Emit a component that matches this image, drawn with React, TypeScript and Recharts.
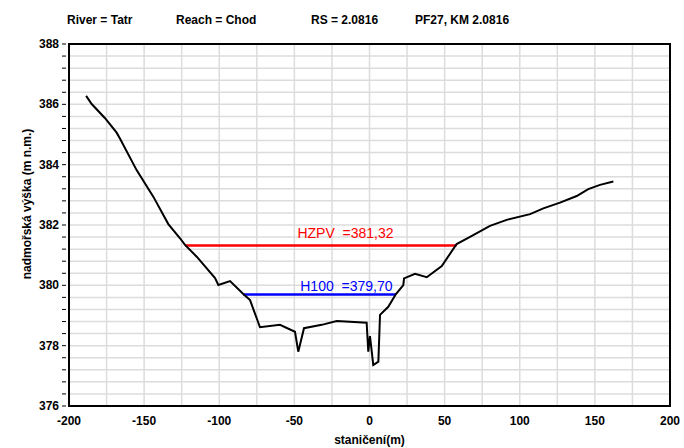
import {
  LineChart,
  Line,
  XAxis,
  YAxis,
  CartesianGrid,
  ReferenceArea,
  ReferenceLine,
  ReferenceDot,
  Label,
} from "recharts"

// cross-section profile (station m, elevation m n.m.)
const STATIONS = [
  -188.6, -184.9, -176.0, -168.3, -166.1, -155.0, -143.9, -133.9, -126.1, -122.8,
  -115.0, -102.8, -100.6, -92.8, -84.0, -79.5, -72.9, -59.6, -49.6, -47.4,
  -43.6, -31.8, -21.8, -1.9, -0.8, 0.3, 1.5, 2.5, 5.9, 7.0,
  12.5, 17.6, 22.5, 23.0, 30.3, 38.1, 48.1, 58.0, 66.9, 80.2,
  91.3, 106.9, 115.7, 126.8, 137.9, 145.6, 153.4, 162.3,
]
const ELEVATIONS = [
  386.28, 386.01, 385.54, 385.06, 384.87, 383.82, 382.94, 382.03, 381.56, 381.34,
  380.95, 380.24, 380.01, 380.14, 379.71, 379.51, 378.61, 378.69, 378.46, 377.8,
  378.58, 378.69, 378.82, 378.76, 377.8, 378.32, 377.8, 377.36, 377.47, 379.02,
  379.29, 379.71, 380.01, 380.23, 380.38, 380.27, 380.64, 381.37, 381.61, 381.97,
  382.17, 382.36, 382.55, 382.74, 382.96, 383.19, 383.33, 383.44,
]

const HZPV = 381.32
const HZPV_FROM = -122.8
const HZPV_TO = 58.0
const H100 = 379.7
const H100_FROM = -84.0
const H100_TO = 17.6

const X_TICKS = [-200, -150, -100, -50, 0, 50, 100, 150, 200]
const Y_TICKS = [376, 378, 380, 382, 384, 386, 388]

const TITLE = [
  { text: "River = Tatr", x: 67 },
  { text: "Reach = Chod", x: 176 },
  { text: "RS = 2.0816", x: 311 },
  { text: "PF27, KM 2.0816", x: 415 },
]
const Y_TITLE = "nadmořská výška (m n.m.)"

const FONT = "'Liberation Sans', Arial, sans-serif"

const profile = STATIONS.map((s, i) => ({ x: s, y: ELEVATIONS[i] }))

// grid every 25 m / 0.4 m
const xGrid: number[] = []
for (let v = -200; v <= 200; v += 25) xGrid.push(v)
const yGrid: number[] = []
for (let i = 0; i <= 30; i++) yGrid.push(Math.round((376 + i * 0.4) * 10) / 10)

const YTick = ({ x, y, payload }: any) => {
  const show = Y_TICKS.includes(payload.value)
  return (
    <g>
      <line x1={x + 1} x2={x + 5} y1={y} y2={y} stroke="#000" strokeWidth={1} />
      {show && (
        <text x={x - 2} y={y + 4} textAnchor="end" fontSize={12} fontWeight="bold" fontFamily={FONT} fill="#000">
          {payload.value}
        </text>
      )}
    </g>
  )
}

export default function App() {
  return (
    <div style={{ position: "absolute", left: 0, top: 0, width: 684, height: 448, background: "#fff" }}>
      <LineChart
        width={684}
        height={448}
        margin={{ top: 44, right: 14, bottom: 0, left: 0 }}
        style={{ position: "absolute", left: 0, top: 0 }}
      >
        <CartesianGrid
          stroke="#dcdcdc"
          strokeWidth={1.5}
          horizontalValues={yGrid}
          verticalValues={xGrid}
        />
        <XAxis
          dataKey="x"
          type="number"
          domain={[-200, 200]}
          ticks={X_TICKS}
          allowDataOverflow
          height={42}
          axisLine={{ stroke: "#000", strokeWidth: 2 }}
          tickLine={false}
          tick={{ fontSize: 12, fontWeight: "bold", fontFamily: FONT, fill: "#000" }}
          tickMargin={4}
        >
          <Label
            value="staničení(m)"
            position="insideBottom"
            offset={4}
            style={{ fontSize: 12, fontWeight: "bold", fontFamily: FONT, fill: "#000" }}
          />
        </XAxis>
        <YAxis
          dataKey="y"
          type="number"
          domain={[376, 388]}
          ticks={yGrid}
          interval={0}
          allowDataOverflow
          width={69}
          axisLine={{ stroke: "#000", strokeWidth: 2 }}
          tickLine={false}
          tick={<YTick />}
        />
        <ReferenceArea x1={-200} x2={200} y1={376} y2={388} fill="none" stroke="#000" strokeWidth={2} />
        <ReferenceLine
          segment={[
            { x: HZPV_FROM, y: HZPV },
            { x: HZPV_TO, y: HZPV },
          ]}
          stroke="#ff0000"
          strokeWidth={2.5}
        />
        <ReferenceLine
          segment={[
            { x: H100_FROM, y: H100 },
            { x: H100_TO, y: H100 },
          ]}
          stroke="#0000ff"
          strokeWidth={2.5}
        />
        <ReferenceDot x={-16} y={HZPV} r={0} stroke="none" fill="none">
          <Label
            value={"HZPV\u00a0\u00a0=381,32"}
            position="top"
            offset={8}
            style={{ fontSize: 14, fontFamily: FONT, fill: "#ff0000" }}
          />
        </ReferenceDot>
        <ReferenceDot x={-15.4} y={H100} r={0} stroke="none" fill="none">
          <Label
            value={"H100\u00a0\u00a0=379,70"}
            position="top"
            offset={3}
            style={{ fontSize: 14, fontFamily: FONT, fill: "#0000ff" }}
          />
        </ReferenceDot>
        <Line
          data={profile}
          dataKey="y"
          type="linear"
          stroke="#000"
          strokeWidth={2}
          dot={false}
          isAnimationActive={false}
        />
      </LineChart>
      <svg width={684} height={448} style={{ position: "absolute", left: 0, top: 0, pointerEvents: "none" }}>
        {TITLE.map((t) => (
          <text key={t.text} x={t.x} y={24} fontSize={12} fontWeight="bold" fontFamily={FONT} fill="#000">
            {t.text}
          </text>
        ))}
        <text
          transform="translate(31,204) rotate(-90)"
          textAnchor="middle"
          fontSize={12}
          fontWeight="bold"
          fontFamily={FONT}
          fill="#000"
        >
          {Y_TITLE}
        </text>
      </svg>
    </div>
  )
}
